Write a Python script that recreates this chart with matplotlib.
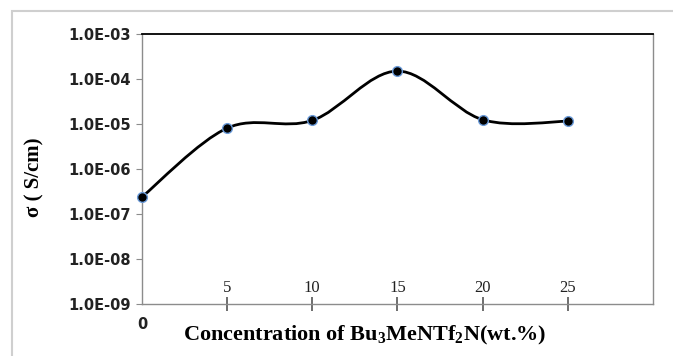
import numpy as np
import matplotlib
matplotlib.use("Agg")
import matplotlib.pyplot as plt
from matplotlib.path import Path
from matplotlib.patches import PathPatch, Rectangle

plt.rcParams['mathtext.fontset'] = 'custom'
plt.rcParams['mathtext.rm'] = 'Liberation Serif:bold'
plt.rcParams['mathtext.it'] = 'Liberation Serif:bold'

# conductivity vs. ionic liquid loading
conc = [0, 5, 10, 15, 20, 25]
sigma = [2.4e-7, 8.1e-6, 1.2e-5, 1.5e-4, 1.25e-5, 1.15e-5]

ytick_vals = [1e-9, 1e-8, 1e-7, 1e-6, 1e-5, 1e-4, 1e-3]
ytick_labels = ["1.0E-09", "1.0E-08", "1.0E-07", "1.0E-06",
                "1.0E-05", "1.0E-04", "1.0E-03"]
xtick_vals = [5, 10, 15, 20, 25]
xtick_labels = ["5", "10", "15", "20", "25"]


def smooth_path(xs, ys):
    # spreadsheet-style smoothed line: cubic bezier segments, built in (x, log y)
    px = np.asarray(xs, float)
    py = np.log10(ys)
    n = len(px)
    verts = [(px[0], py[0])]
    codes = [Path.MOVETO]
    for i in range(n - 1):
        i0 = max(i - 1, 0)
        i3 = min(i + 2, n - 1)
        c1 = (px[i] + (px[i + 1] - px[i0]) / 6, py[i] + (py[i + 1] - py[i0]) / 6)
        c2 = (px[i + 1] - (px[i3] - px[i]) / 6, py[i + 1] - (py[i3] - py[i]) / 6)
        verts += [c1, c2, (px[i + 1], py[i + 1])]
        codes += [Path.CURVE4] * 3
    verts = [(x, 10 ** y) for x, y in verts]
    return Path(verts, codes)


fig = plt.figure(figsize=(6.73, 3.56), dpi=100)
ax = fig.add_axes([0.211, 0.146, 0.759, 0.7585])

# light frame around the whole chart
fig.patches.append(Rectangle((12 / 673, -0.2), 1.2, 1.2 - 11 / 356,
                             transform=fig.transFigure, fill=False,
                             edgecolor='#cfcfcf', lw=1.5))

ax.set_yscale('log')
ax.set_xlim(0, 30)
ax.set_ylim(1e-9, 1e-3)

ax.add_patch(PathPatch(smooth_path(conc, sigma), facecolor='none',
                       edgecolor='black', lw=2, zorder=3))
ax.plot(conc, sigma, linestyle='none', marker='o', ms=7, mfc='black',
        mec='#6a9ad8', mew=1, zorder=4, clip_on=False)

for s in ['left', 'right', 'bottom']:
    ax.spines[s].set_color('#8c8c8c')
    ax.spines[s].set_linewidth(1)
ax.spines['top'].set_color('black')
ax.spines['top'].set_linewidth(1.3)

ax.set_yticks(ytick_vals)
ax.set_yticklabels(ytick_labels, fontfamily='DejaVu Sans', fontweight='bold',
                   fontsize=10.5, color='#222222')
ax.yaxis.set_minor_locator(plt.NullLocator())
ax.tick_params(axis='y', direction='out', length=4, color='#8c8c8c', pad=4)

ax.set_xticks(xtick_vals)
ax.set_xticklabels(xtick_labels, fontfamily='Liberation Serif', fontsize=12,
                   color='#222222')
ax.tick_params(axis='x', which='major', direction='inout', length=10,
               width=1.2, color='#555555', pad=-22)
ax.set_xticks([0], minor=True)
ax.set_xticklabels(["0"], minor=True, fontfamily='DejaVu Sans',
                   fontweight='bold', fontsize=10.5, color='#222222')
ax.tick_params(axis='x', which='minor', length=0, pad=9)

ax.set_xlabel(r"Concentration of Bu$_3$MeNTf$_2$N(wt.%)",
              fontfamily='Liberation Serif', fontweight='bold', fontsize=16)
ax.xaxis.set_label_coords(0.436, -0.075)
ax.set_ylabel("σ ( S/cm)", fontfamily='Liberation Serif', fontweight='bold',
              fontsize=15)
ax.yaxis.set_label_coords(-0.19, 0.47)

fig.savefig("out.png", dpi=100)
